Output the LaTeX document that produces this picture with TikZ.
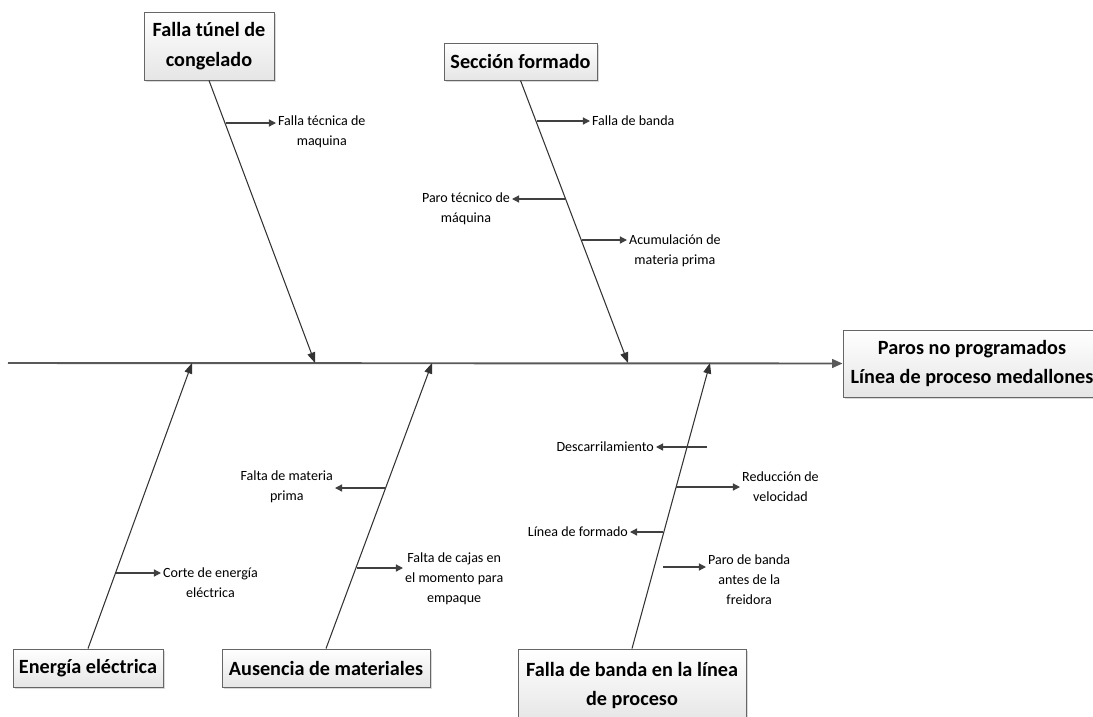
\documentclass[tikz,border=0pt]{standalone}
\usepackage{fontspec}
\setmainfont{Carlito}
\usetikzlibrary{arrows.meta,shadows,calc}

\begin{document}
\begin{tikzpicture}[x=0.02cm,y=-0.02cm,>={Triangle[length=4pt,width=4pt]}]
  \useasboundingbox (0,0) rectangle (1093,717);
  \tikzset{
    causeBox/.style={rectangle,draw=black!60,line width=0.5pt,top color=white,bottom color=black!10,
      drop shadow={shadow xshift=1.3pt,shadow yshift=-1.3pt,opacity=0.3},
      font=\fontsize{11.5}{17}\selectfont\bfseries, align=center, inner sep=2pt},
    effectBox/.style={causeBox, font=\fontsize{11.5}{16.5}\selectfont\bfseries},
    % edge styles
    spine/.style={-{Triangle[length=6pt,width=5pt]}, draw=black!65, line width=1.1pt},
    bone/.style={-{Triangle[length=6pt,width=4.5pt]}, draw=black!80, line width=0.6pt},
    subCause/.style={->, draw=black!75, line width=0.7pt},
    %label styles
    causeText/.style={font=\fontsize{8}{11.3}\selectfont, align=center, inner sep=1pt}
  }

  %% Effect and spine
  \node [effectBox, minimum width=5.16cm, minimum height=1.34cm] (bParos) at (972,363.5)
    {Paros no programados\\Línea de proceso medallones};
  \coordinate (spineStart) at (8,363);
  \draw [spine] (spineStart) -- (bParos.west);

  \coordinate (s1) at (315,363);
  \coordinate (s2) at (628,363);
  \coordinate (s3) at (192,363);
  \coordinate (s4) at (432,363);
  \coordinate (s5) at (710,363);

  %% Falla tunel de congelado
  \node [causeBox, minimum width=2.6cm, minimum height=1.36cm] (bCongelado) at (209,46)
    {Falla túnel de\\congelado};
  \draw [bone] (bCongelado.south) -- (s1);

  \coordinate (c11) at (226,123);
  \node [causeText, anchor=west] (lMaquina) at (276,132) {Falla técnica de\\maquina};
  \draw [subCause] (c11) -- (c11 -| lMaquina.west);

  %% Seccion formado
  \node [causeBox, minimum width=3.06cm, minimum height=0.74cm] (bSeccion) at (520.5,61.5)
    {Sección formado};
  \draw [bone] (bSeccion.south) -- (s2);

  \coordinate (c21) at (537,121);
  \node [causeText, anchor=west] (lBanda) at (590,121) {Falla de banda};
  \draw [subCause] (c21) -- (c21 -| lBanda.west);

  \coordinate (c22) at (565,199);
  \node [causeText, anchor=east] (lParo) at (512,209) {Paro técnico de\\máquina};
  \draw [subCause] (c22) -- (c22 -| lParo.east);

  \coordinate (c23) at (582,240);
  \node [causeText, anchor=west] (lAcum) at (627,251) {Acumulación de\\materia prima};
  \draw [subCause] (c23) -- (c23 -| lAcum.west);

  %% Energia electrica
  \node [causeBox, minimum width=3cm, minimum height=0.76cm] (bEnergia) at (88,668)
    {Energía eléctrica};
  \draw [bone] (bEnergia.north) -- (s3);

  \coordinate (c31) at (116,573);
  \node [causeText, anchor=west] (lCorte) at (161,583) {Corte de energía\\eléctrica};
  \draw [subCause] (c31) -- (c31 -| lCorte.west);

  %% Ausencia de materiales
  \node [causeBox, minimum width=4.16cm, minimum height=0.76cm] (bAusencia) at (326,668)
    {Ausencia de materiales};
  \draw [bone] (bAusencia.north) -- (s4);

  \coordinate (c41) at (386,488);
  \node [causeText, anchor=east] (lFaltaMat) at (335,487) {Falta de materia\\prima};
  \draw [subCause] (c41) -- (c41 -| lFaltaMat.east);

  \coordinate (c42) at (357,568);
  \node [causeText, anchor=west] (lCajas) at (403,579) {Falta de cajas en\\el momento para\\empaque};
  \draw [subCause] (c42) -- (c42 -| lCajas.west);

  %% Falla de banda en la linea de proceso
  \node [causeBox, minimum width=4.56cm, minimum height=1.46cm] (bFallaBanda) at (632,685.5)
    {Falla de banda en la línea\\de proceso};
  \draw [bone] (bFallaBanda.north) -- (s5);

  \coordinate (c51) at (707,447);
  \node [causeText, anchor=east] (lDescarr) at (656,447) {Descarrilamiento};
  \draw [subCause] (c51) -- (c51 -| lDescarr.east);

  \coordinate (c52) at (676,487);
  \node [causeText, anchor=west] (lReduc) at (740,487) {Reducción de\\velocidad};
  \draw [subCause] (c52) -- (c52 -| lReduc.west);

  \coordinate (c53) at (663,532);
  \node [causeText, anchor=east] (lLinea) at (630,532) {Línea de formado};
  \draw [subCause] (c53) -- (c53 -| lLinea.east);

  \coordinate (c54) at (663,567);
  \node [causeText, anchor=west] (lParoBanda) at (706,580) {Paro de banda\\antes de la\\freidora};
  \draw [subCause] (c54) -- (c54 -| lParoBanda.west);

\end{tikzpicture}
\end{document}
